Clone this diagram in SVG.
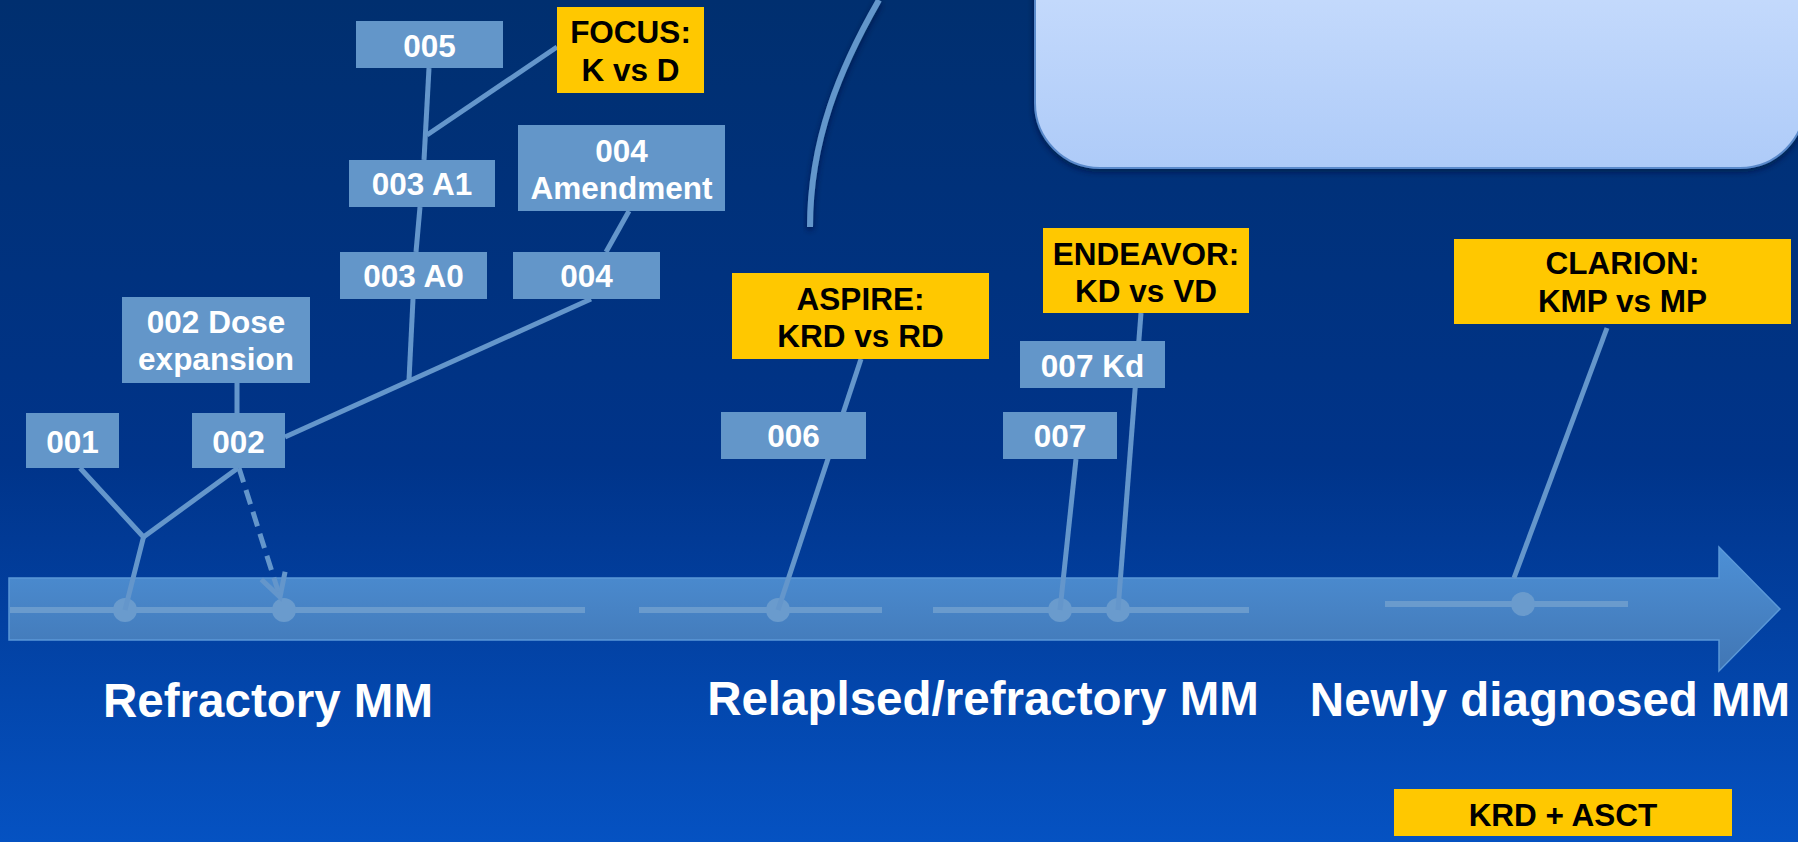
<svg xmlns="http://www.w3.org/2000/svg" width="1798" height="842" viewBox="0 0 1798 842">
<defs>
<linearGradient id="bg" x1="0" y1="0" x2="0" y2="1">
<stop offset="0" stop-color="#002f6f"/>
<stop offset="0.55" stop-color="#00348a"/>
<stop offset="1" stop-color="#0552c2"/>
</linearGradient>
<linearGradient id="band" x1="0" y1="0" x2="0" y2="1">
<stop offset="0" stop-color="#4d90d6"/>
<stop offset="1" stop-color="#4176b4"/>
</linearGradient>
<linearGradient id="panel" x1="0" y1="0" x2="0" y2="1">
<stop offset="0" stop-color="#d2e3ff"/>
<stop offset="1" stop-color="#aecbf8"/>
</linearGradient>
<filter id="shadow" x="-10%" y="-10%" width="120%" height="130%">
<feDropShadow dx="0" dy="3" stdDeviation="3" flood-color="#000a30" flood-opacity="0.6"/>
</filter>
<marker id="chev" viewBox="0 0 12 12" refX="10" refY="6" markerWidth="6" markerHeight="6" orient="auto" markerUnits="strokeWidth">
<path d="M1 1 L10 6 L1 11" fill="none" stroke="#6496cb" stroke-width="2"/>
</marker>
<style>
.bx{fill:#6396c9}
.yb{fill:#ffc800}
.wt{fill:#ffffff;font-family:"Liberation Sans",Arial,sans-serif;font-weight:bold;font-size:31.5px;text-anchor:middle}
.bt{fill:#000000;font-family:"Liberation Sans",Arial,sans-serif;font-weight:bold;font-size:31.5px;text-anchor:middle}
.big{fill:#ffffff;font-family:"Liberation Sans",Arial,sans-serif;font-weight:bold;font-size:47.5px;text-anchor:middle}
.ln{fill:none;stroke:#6496cb;stroke-width:5;stroke-linecap:butt}
.tl{fill:none;stroke:#6a9bcd;stroke-width:6}
.dot{fill:#6a9bcd}
</style>
</defs>
<rect x="0" y="0" width="1798" height="842" fill="url(#bg)"/>
<!-- top right panel -->
<rect id="panel" x="1035" y="-120" width="770" height="288" rx="65" ry="65" fill="url(#panel)" stroke="#5a8acb" stroke-width="2" filter="url(#shadow)"/>
<!-- arc -->
<path d="M879 0 C840 68 810 140 810 227" fill="none" stroke="#6396cb" stroke-width="6" filter="url(#shadow)"/>
<!-- timeline arrow -->
<g id="timeline">
<path d="M9 578 H1719 V547 L1780 609 L1719 671 V640 H9 Z" fill="url(#band)" stroke="#5b98d8" stroke-width="1.5"/>
<line class="tl" x1="10" y1="610" x2="585" y2="610"/>
<line class="tl" x1="639" y1="610" x2="882" y2="610"/>
<line class="tl" x1="933" y1="610" x2="1249" y2="610"/>
<line class="tl" x1="1385" y1="604" x2="1628" y2="604"/>
<circle class="dot" cx="125" cy="610" r="12"/>
<circle class="dot" cx="284" cy="610" r="12"/>
<circle class="dot" cx="778" cy="610" r="12"/>
<circle class="dot" cx="1060" cy="610" r="12"/>
<circle class="dot" cx="1118" cy="610" r="12"/>
<circle class="dot" cx="1523" cy="604" r="12"/>
</g>
<g id="connectors">
<line class="ln" x1="429" y1="68" x2="424" y2="160"/>
<line class="ln" x1="557" y1="47" x2="427" y2="135"/>
<line class="ln" x1="420" y1="207" x2="416" y2="252"/>
<line class="ln" x1="629" y1="211" x2="606" y2="252"/>
<line class="ln" x1="413" y1="299" x2="409" y2="380"/>
<line class="ln" x1="591" y1="299" x2="285" y2="437"/>
<line class="ln" x1="237" y1="383" x2="237" y2="413"/>
<polyline class="ln" points="80,468 143.5,537 125,610"/>
<line class="ln" x1="238" y1="468" x2="143.5" y2="537"/>
<line class="ln" x1="239" y1="468" x2="280" y2="597" stroke-dasharray="15 8" marker-end="url(#chev)"/>
<line class="ln" x1="861" y1="359" x2="778" y2="610"/>
<line class="ln" x1="1141" y1="313" x2="1118" y2="610"/>
<line class="ln" x1="1076" y1="459" x2="1060" y2="610"/>
<line class="ln" x1="1607" y1="328" x2="1514" y2="578"/>
</g>
<g id="n005"><rect class="bx" x="356" y="21" width="147" height="47"/><text class="wt" x="429.5" y="57">005</text></g>
<g id="focus"><rect class="yb" x="557" y="7" width="147" height="86"/><text class="bt" x="630.5" y="43">FOCUS:</text><text class="bt" x="630.5" y="81">K vs D</text></g>
<g id="n003a1"><rect class="bx" x="349" y="160" width="146" height="47"/><text class="wt" x="422" y="195">003 A1</text></g>
<g id="n004am"><rect class="bx" x="518" y="125" width="207" height="86"/><text class="wt" x="621.5" y="162">004</text><text class="wt" x="621.5" y="199">Amendment</text></g>
<g id="n003a0"><rect class="bx" x="340" y="252" width="147" height="47"/><text class="wt" x="413.5" y="287">003 A0</text></g>
<g id="n004"><rect class="bx" x="513" y="252" width="147" height="47"/><text class="wt" x="586.5" y="287">004</text></g>
<g id="n002dose"><rect class="bx" x="122" y="297" width="188" height="86"/><text class="wt" x="216" y="333">002 Dose</text><text class="wt" x="216" y="370">expansion</text></g>
<g id="n001"><rect class="bx" x="26" y="413" width="93" height="55"/><text class="wt" x="72.5" y="453">001</text></g>
<g id="n002"><rect class="bx" x="192" y="413" width="93" height="55"/><text class="wt" x="238.5" y="453">002</text></g>
<g id="aspire"><rect class="yb" x="732" y="273" width="257" height="86"/><text class="bt" x="860.5" y="310">ASPIRE:</text><text class="bt" x="860.5" y="347">KRD vs RD</text></g>
<g id="n006"><rect class="bx" x="721" y="412" width="145" height="47"/><text class="wt" x="793.5" y="447">006</text></g>
<g id="n007"><rect class="bx" x="1003" y="412" width="114" height="47"/><text class="wt" x="1060" y="447">007</text></g>
<g id="n007kd"><rect class="bx" x="1020" y="341" width="145" height="47"/><text class="wt" x="1092.5" y="377">007 Kd</text></g>
<g id="endeavor"><rect class="yb" x="1043" y="228" width="206" height="85"/><text class="bt" x="1146" y="265">ENDEAVOR:</text><text class="bt" x="1146" y="302">KD vs VD</text></g>
<g id="clarion"><rect class="yb" x="1454" y="239" width="337" height="85"/><text class="bt" x="1622.5" y="274">CLARION:</text><text class="bt" x="1622.5" y="312">KMP vs MP</text></g>
<g id="krdasct"><rect class="yb" x="1394" y="789" width="338" height="47"/><text class="bt" x="1563" y="826">KRD + ASCT</text></g>
<g id="labels">
<text class="big" x="268" y="717">Refractory MM</text>
<text class="big" x="983" y="715">Relaplsed/refractory MM</text>
<text class="big" x="1550" y="716">Newly diagnosed MM</text>
</g>
</svg>
